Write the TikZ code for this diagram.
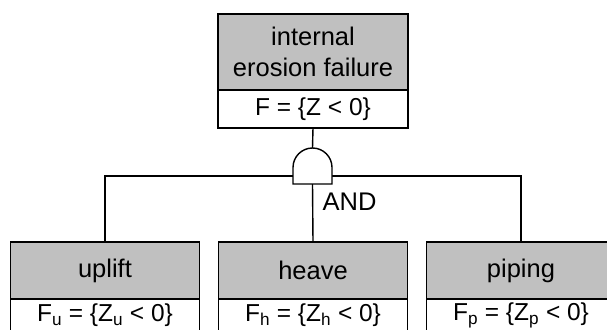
\documentclass[tikz,border=0pt]{standalone}
\usepackage{fontspec}
\setmainfont{Liberation Sans}
\usetikzlibrary{positioning, calc}
\definecolor{boxgrey}{RGB}{192,192,192}

\begin{document}
\begin{tikzpicture}[
    x=1pt, y=1pt,
    line width=1.4pt,
    event/.style={draw, rectangle, fill=boxgrey, align=center, outer sep=0pt, inner sep=0pt, minimum width=189pt, font=\fontsize{25.5}{31}\selectfont},
    cond/.style={draw, rectangle, fill=white, outer sep=0pt, inner sep=0pt, minimum width=189pt, minimum height=38pt, font=\fontsize{24.5}{28}\selectfont},
    gatebox/.style={rectangle, outer sep=0pt, inner sep=0pt, minimum width=39pt, minimum height=36pt}
]
    \useasboundingbox (0,0) rectangle (607,329);
    \clip (0,0) rectangle (607,329);

    \node[event, minimum width=190pt, minimum height=76pt] (top) at (313,277) {internal\\erosion failure};
    \node[cond, minimum width=190pt, below=0pt of top] (topF) {F = \{Z < 0\}};

    \node[gatebox] (gate) at (312.5,163) {};

    \node[event, minimum height=57pt] (heave) at (313,58.5) {heave};
    \node[cond, minimum height=33pt, below=0pt of heave] (heaveF) {F\textsubscript{h} = \{Z\textsubscript{h} < 0\}};
    \node[event, minimum height=57pt, left=19pt of heave] (uplift) {uplift};
    \node[cond, minimum height=33pt, below=0pt of uplift] (upliftF) {F\textsubscript{u} = \{Z\textsubscript{u} < 0\}};
    \node[event, minimum height=57pt, right=19pt of heave] (piping) {piping};
    \node[cond, minimum height=33pt, below=0pt of piping] (pipingF) {F\textsubscript{p} = \{Z\textsubscript{p} < 0\}};

    \coordinate (join) at ($(gate.south)+(0,8)$);
    \draw (uplift.north) |- (join) -| (piping.north);
    \draw (topF.south) -- (gate.north);
    \draw (gate.south) -- (heave.north);
    \draw[fill=white] (gate.south west) -- ($(gate.south west)+(0,16.5)$) arc (180:0:19.5) -- (gate.south east) -- cycle;

    \node[below right=8pt and 9.5pt of gate.south, inner sep=0pt, font=\fontsize{25.5}{31}\selectfont] (andlbl) {AND};
\end{tikzpicture}
\end{document}
